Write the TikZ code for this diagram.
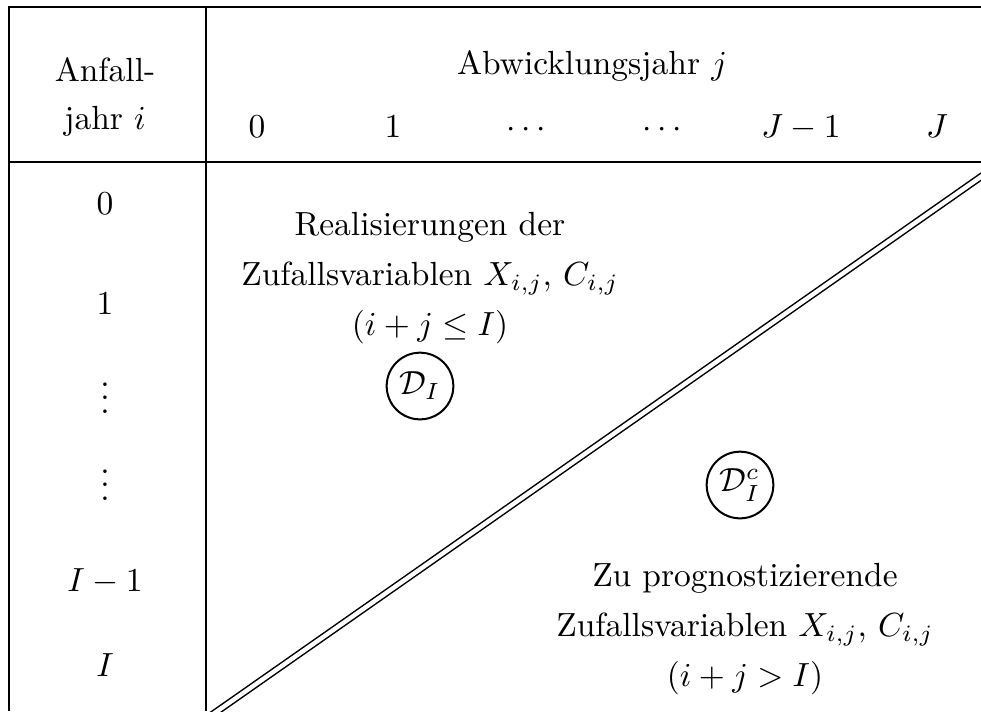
\documentclass[tikz,border=0pt]{standalone}
\usepackage{amsmath,amssymb}
\newcommand{\zvar}{Zufallsvariablen $X_{i,j}$, $C_{i,j}$}
\newcommand{\rvdots}{\smash{\vdots}}

\begin{document}
\begin{tikzpicture}[x=0.0105cm,y=-0.0105cm,
    rule/.style={line width=0.75pt},
    diag/.style={double,double distance=1.3pt,line width=0.45pt},
    setcirc/.style={draw,circle,line width=0.6pt,minimum size=0.7cm,inner sep=0pt},
    cell/.style={anchor=base,inner sep=0pt},
    block/.style={align=center,inner sep=0pt}]
  \useasboundingbox (0,0) rectangle (981,711);
  \clip (0,0) rectangle (981,711);
  % Rahmen und Trennlinien
  \draw[rule] (981,7) -- (9,7) -- (9,711);
  \draw[rule] (206,7) -- (206,711);
  \draw[rule] (9,162) -- (981,162);
  % Diagonale i+j=I
  \coordinate (lo) at (206,719);
  \coordinate (hi) at (1002,162);
  \draw[diag] (lo) -- (hi);
  % Kopf
  \node[block] (anf) at (105,97) {Anfall-\\[2.5pt] jahr $i$};
  \node (abw) at (592,66) {Abwicklungsjahr $j$};
  \foreach \t [count=\k from 0] in {0,1,\cdots,\cdots,J-1,J}
    \node[cell] (c\k) at (257+136*\k,137) {$\t$};
  \foreach \t/\yy [count=\k from 0] in {0/214,1/314,\rvdots/413,\rvdots/500,I-1/591,I/676}
    \node[cell] (r\k) at (105,\yy) {$\t$};
  % Dreiecke
  \node[block] (real) at (430,278) {Realisierungen der\\[3pt] \zvar\\[3pt] $(i+j\le I)$};
  \node[setcirc] (dI) at (420,386) {$\mathcal{D}_I$};
  \node[setcirc] (dIc) at (740,485) {$\mathcal{D}_I^c$};
  \node[block] (prog) at (745,629) {Zu prognostizierende\\[3pt] \zvar\\[3pt] $(i+j>I)$};
\end{tikzpicture}
\end{document}
